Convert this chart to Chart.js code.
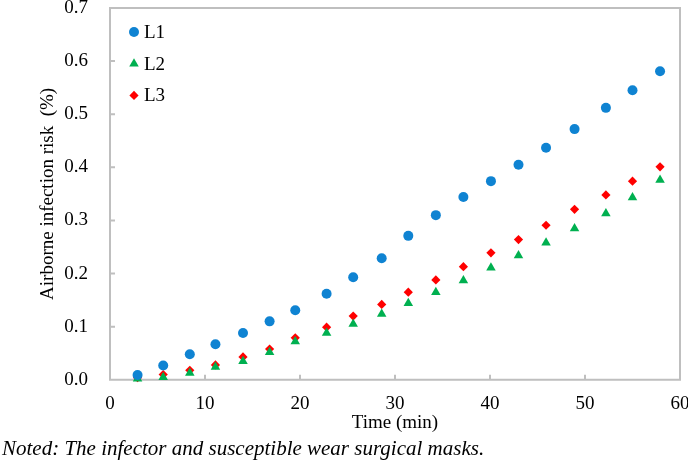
<!DOCTYPE html>
<html>
<head>
<meta charset="utf-8">
<script src="https://cdn.jsdelivr.net/npm/chart.js@4"></script>
<style>
  html, body { margin: 0; padding: 0; background: #fff; }
  #wrap { width: 688px; height: 462px; }
</style>
</head>
<body>
<div id="wrap"><canvas id="risk"></canvas></div>
<script>
const times = [2.9, 5.6, 8.4, 11.1, 14.0, 16.8, 19.5, 22.8, 25.6, 28.6, 31.4, 34.3, 37.2, 40.1, 43.0, 45.9, 48.9, 52.2, 55.0, 57.9];
const riskL1 = [0.009, 0.027, 0.048, 0.067, 0.088, 0.110, 0.131, 0.162, 0.193, 0.229, 0.271, 0.310, 0.344, 0.374, 0.405, 0.437, 0.472, 0.512, 0.545, 0.581];
const riskL2 = [0.002, 0.005, 0.013, 0.024, 0.035, 0.052, 0.072, 0.088, 0.105, 0.124, 0.144, 0.165, 0.187, 0.211, 0.234, 0.258, 0.285, 0.313, 0.343, 0.376];
const riskL3 = [0.004, 0.010, 0.018, 0.028, 0.043, 0.058, 0.079, 0.099, 0.120, 0.142, 0.165, 0.188, 0.213, 0.239, 0.264, 0.291, 0.321, 0.348, 0.374, 0.401];
const xTicks = [0, 10, 20, 30, 40, 50, 60];
const yTicks = [0, 0.1, 0.2, 0.3, 0.4, 0.5, 0.6, 0.7];

const serif = "'Liberation Serif', 'Times New Roman', serif";
const axisGray = "#bfbfbf";

function pts(ys) {
    return ys.map((y, i) => ({ x: times[i], y: y }));
}

// plot frame + inward ticks, drawn under the points
const frame = {
    id: "frame",
    beforeDatasetsDraw(chart) {
        const ctx = chart.ctx;
        const a = chart.chartArea;
        const sx = chart.scales.x, sy = chart.scales.y;
        ctx.save();
        ctx.strokeStyle = axisGray;
        ctx.lineWidth = 2;
        ctx.beginPath();
        ctx.moveTo(a.left, a.top);
        ctx.lineTo(a.right, a.top);
        ctx.lineTo(a.right, a.bottom);
        ctx.lineTo(a.left, a.bottom);
        ctx.closePath();
        xTicks.forEach(v => {
            const px = sx.getPixelForValue(v);
            ctx.moveTo(px, a.bottom);
            ctx.lineTo(px, a.bottom - 5);
        });
        yTicks.forEach(v => {
            const py = sy.getPixelForValue(v);
            ctx.moveTo(a.left, py);
            ctx.lineTo(a.left + 5, py);
        });
        ctx.stroke();
        ctx.restore();
    }
};

// legend inside the plot, top left
const innerLegend = {
    id: "innerLegend",
    afterDraw(chart) {
        const ctx = chart.ctx;
        const a = chart.chartArea;
        ctx.save();
        ctx.font = "19px " + serif;
        ctx.textBaseline = "middle";
        chart.data.datasets.forEach((ds, i) => {
            const y = a.top + 24 + i * 31.7;
            const x = a.left + 24;
            ctx.fillStyle = ds.backgroundColor;
            Chart.helpers.drawPoint(ctx, {
                pointStyle: ds.pointStyle,
                radius: ds.pointRadius,
                rotation: 0,
                borderWidth: 0
            }, x, y);
            ctx.fillStyle = "#000";
            ctx.fillText(ds.label, x + 10, y + 1);
        });
        ctx.restore();
    }
};

new Chart(document.getElementById("risk"), {
    type: "scatter",
    data: {
        datasets: [
            {
                label: "L1",
                data: pts(riskL1),
                pointStyle: "circle",
                pointRadius: 5,
                backgroundColor: "#0f83d2",
                borderWidth: 0,
                clip: false,
            },
            {
                label: "L2",
                data: pts(riskL2),
                pointStyle: "triangle",
                pointRadius: 5.5,
                backgroundColor: "#00b050",
                borderWidth: 0,
                clip: false,
            },
            {
                label: "L3",
                data: pts(riskL3),
                pointStyle: "rectRot",
                pointRadius: 4.6,
                backgroundColor: "#ff0000",
                borderWidth: 0,
                clip: false,
            },
        ],
    },
    options: {
        responsive: true,
        maintainAspectRatio: false,
        animation: false,
        layout: {
            padding: { top: 8, right: 8, left: 2, bottom: 0 },
        },
        plugins: {
            legend: { display: false },
            tooltip: { enabled: false },
            subtitle: {
                display: true,
                position: "bottom",
                align: "start",
                text: "Noted: The infector and susceptible wear surgical masks.",
                color: "#000",
                font: { family: serif, size: 21, style: "italic" },
                padding: { top: 2, bottom: 0 },
            },
        },
        scales: {
            x: {
                type: "linear",
                min: 0,
                max: 60,
                afterBuildTicks: s => { s.ticks = xTicks.map(v => ({ value: v })); },
                afterFit: s => { s.height = 55; s.paddingLeft = 0; s.paddingRight = 0; },
                grid: { display: false, drawTicks: false, tickLength: 0 },
                border: { display: false },
                ticks: {
                    color: "#000",
                    font: { family: serif, size: 19 },
                    padding: 13,
                },
                title: {
                    display: true,
                    text: "Time (min)",
                    color: "#000",
                    font: { family: serif, size: 19 },
                    padding: { top: 0, bottom: 0 },
                },
            },
            y: {
                type: "linear",
                min: 0,
                max: 0.7,
                afterBuildTicks: s => { s.ticks = yTicks.map(v => ({ value: v })); },
                afterFit: s => { s.width = 108; s.paddingTop = 0; s.paddingBottom = 0; },
                grid: { display: false, drawTicks: false, tickLength: 0 },
                border: { display: false },
                ticks: {
                    color: "#000",
                    font: { family: serif, size: 19 },
                    padding: 22,
                    callback: v => v.toFixed(1),
                },
                title: {
                    display: true,
                    text: "Airborne infection risk  (%)",
                    color: "#000",
                    font: { family: serif, size: 19 },
                    padding: { top: 35, bottom: 0 },
                },
            },
        },
    },
    plugins: [frame, innerLegend],
});
</script>
</body>
</html>
